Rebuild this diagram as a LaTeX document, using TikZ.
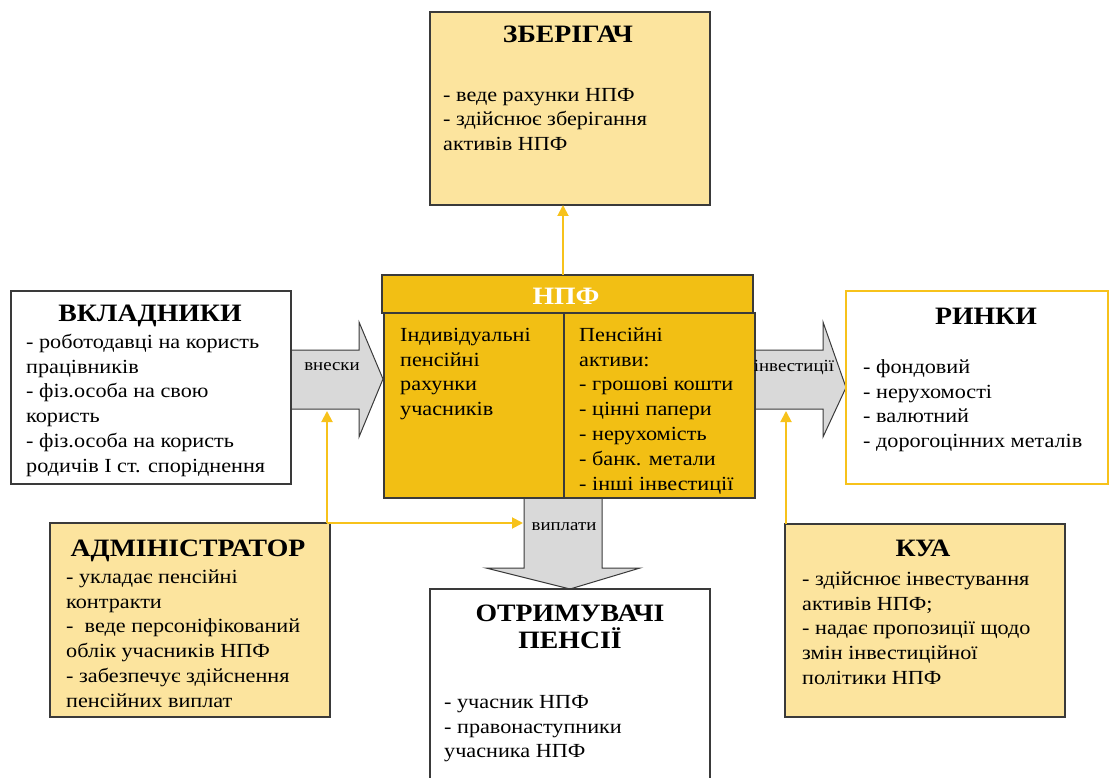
\documentclass[tikz,border=0pt]{standalone}
\usepackage{fontspec}
\setmainfont{Liberation Serif}[FakeStretch=1.11]
\usetikzlibrary{arrows.meta,backgrounds,calc}
\definecolor{lightyel}{HTML}{FCE49E}
\definecolor{npfgold}{HTML}{F2BF14}
\definecolor{conyel}{HTML}{F7C21B}
\definecolor{arrgray}{HTML}{D9D9D9}
\definecolor{edgegray}{HTML}{3A3A3A}
\newcommand\firstln{\rule{0pt}{18pt}}
\begin{document}
\begin{tikzpicture}[x=1pt,y=-1pt,
  box/.style={draw=edgegray, line width=1.2pt, inner sep=0pt, outer sep=0pt},
  body/.style={font=\fontsize{20}{24.8}\selectfont, align=left, anchor=north west, inner sep=0pt},
  head/.style={font=\fontsize{25}{27}\selectfont\bfseries, align=center, inner sep=0pt, anchor=base},
  blockarrow/.style={draw=edgegray, fill=arrgray, line width=1pt, line join=miter},
  yarrow/.style={draw=conyel, line width=1.9pt, -{Triangle[length=11pt,width=11pt]}},
  lbl/.style={font=\fontsize{17}{19}\selectfont, inner sep=0pt}
]
\useasboundingbox (0,0) rectangle (1112,778);
\clip (0,0) rectangle (1112,778);

% ---------- boxes ----------
\node[box, fill=lightyel, minimum width=280pt, minimum height=193pt] (zb) at (570,108.5) {};
\node[box, fill=white, minimum width=280pt, minimum height=193pt] (vk) at (151,387.5) {};
\node[box, fill=npfgold, minimum width=371pt, minimum height=38pt] (npfh) at (567.5,294) {};
\node[box, fill=npfgold, minimum width=180pt, minimum height=185pt] (npfl) at (474,405.5) {};
\node[box, fill=npfgold, minimum width=191pt, minimum height=185pt] (npfr) at (659.5,405.5) {};
\node[box, draw=conyel, line width=2.4pt, fill=white, minimum width=262pt, minimum height=193pt] (rk) at (977,387.5) {};
\node[box, fill=lightyel, minimum width=280pt, minimum height=194pt] (adm) at (190,620) {};
\node[box, fill=white, minimum width=280pt, minimum height=211pt] (otr) at (570,694.5) {};
\node[box, fill=lightyel, minimum width=280pt, minimum height=193pt] (kua) at (925,620.5) {};

% ---------- block arrows (behind) ----------
\begin{scope}[on background layer]
  \draw[blockarrow] (vk.east |- 0,350) -- (359,350) -- (359,322) -- (383,379) -- (359,437) -- (359,409) -- (vk.east |- 0,409) -- cycle;
  \draw[blockarrow] (npfr.east |- 0,350) -- (823,350) -- (823,322) -- (rk.west) -- (823,437) -- (823,409) -- (npfr.east |- 0,409) -- cycle;
  \draw[blockarrow] (524,495) -- (602,495) -- (602,568) -- (640,568) -- (otr.north) -- (486,568) -- (524,568) -- cycle;
\end{scope}

% ---------- arrow labels ----------
\node[lbl] (lvn) at (332,367) {внески};
\node[lbl] (linv) at (794,368) {інвестиції};
\node[lbl] (lvyp) at (564,527) {виплати};

% ---------- yellow connectors ----------
\coordinate (zx) at (563,0);
\draw[yarrow] (npfh.north -| zx) -- (zb.south -| zx);
\coordinate (ac) at ($(adm.north east)+(-3,0)$);
\coordinate (vnb) at (327,411);
\coordinate (vyl) at (523,523);
\draw[yarrow] (ac) -- (vnb);
\draw[yarrow] (ac) -- (vyl);
\coordinate (kx) at (786,0);
\coordinate (invb) at (786,411);
\draw[yarrow] (kua.north -| kx) -- (invb);

% ---------- texts ----------
\node[head] (tzb) at (568,43) {ЗБЕРІГАЧ};
\node[body] (bzb) at (443,101-18) {\firstln- веде рахунки НПФ\\- здійснює зберігання\\активів НПФ};

\node[head] (tvk) at (150,322) {ВКЛАДНИКИ};
\node[body] (bvk) at (26,348-18) {\firstln- роботодавці на користь\\працівників\\- фіз.особа на свою\\користь\\- фіз.особа на користь\\родичів І ст. споріднення};

\node[head, text=white] (tnpf) at (566,305) {НПФ};
\node[body] (bnl) at (400,341-18) {\firstln Індивідуальні\\пенсійні\\рахунки\\учасників};
\node[body] (bnr) at (579,341-18) {\firstln Пенсійні\\активи:\\- грошові кошти\\- цінні папери\\- нерухомість\\- банк. метали\\- інші інвестиції};

\node[head] (trk) at (986,324) {РИНКИ};
\node[body] (brk) at (863,373-18) {\firstln- фондовий\\- нерухомості\\- валютний\\- дорогоцінних металів};

\node[head] (tadm) at (188,556) {АДМІНІСТРАТОР};
\node[body] (badm) at (66,583-18) {\firstln- укладає пенсійні\\контракти\\-\ \ веде персоніфікований\\облік учасників НПФ\\- забезпечує здійснення\\пенсійних виплат};

\node[head, anchor=north] (totr) at (570,621-18) {\firstln ОТРИМУВАЧІ\\ПЕНСІЇ};
\node[body] (botr) at (444,708-18) {\firstln- учасник НПФ\\- правонаступники\\учасника НПФ};

\node[head] (tkua) at (923,556) {КУА};
\node[body] (bkua) at (802,585-18) {\firstln- здійснює інвестування\\активів НПФ;\\- надає пропозиції щодо\\змін інвестиційної\\політики НПФ};
\end{tikzpicture}
\end{document}
